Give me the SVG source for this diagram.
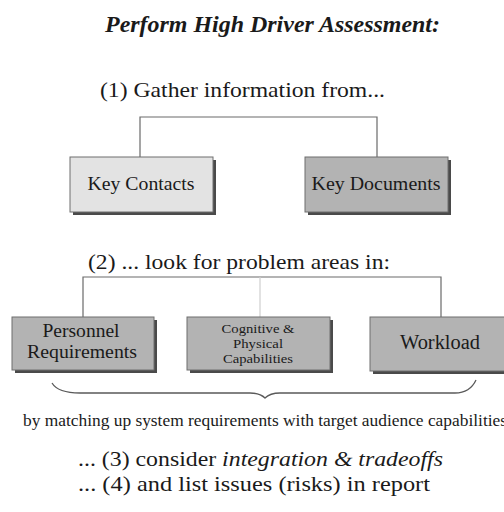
<svg xmlns="http://www.w3.org/2000/svg" width="504" height="512" viewBox="0 0 504 512">
  <style>
    .box { stroke: #6e6e6e; stroke-width: 1; }
    .shadow { fill: #4a4a4a; }
    .light { fill: #e3e3e3; }
    .dark { fill: #b3b3b3; }
    .wire { stroke: #6a6a6a; stroke-width: 1.2; fill: none; }
    .wire-faint { stroke: #cfcfcf; stroke-width: 1.2; fill: none; }
    .brace { stroke: #5a5a5a; stroke-width: 1.3; fill: none; }
  </style>

  <rect width="504" height="512" fill="#ffffff"/>

  <text x="105" y="32" font-family="'Liberation Serif', serif" font-size="23" font-weight="bold" font-style="italic" fill="#1a1a1a" textLength="335" lengthAdjust="spacingAndGlyphs">Perform High Driver Assessment:</text>
  <text x="100" y="97" font-family="'Liberation Serif', serif" font-size="22" fill="#1a1a1a" textLength="285" lengthAdjust="spacingAndGlyphs">(1) Gather information from...</text>
  <text x="88" y="269" font-family="'Liberation Serif', serif" font-size="22" fill="#1a1a1a" textLength="302" lengthAdjust="spacingAndGlyphs">(2) ... look for problem areas in:</text>

  <!-- connectors -->
  <g id="connectors">
    <path class="wire" d="M140,157 V117 H377 V157"/>
    <path class="wire" d="M83,317 V277 H441 V317"/>
    <path class="wire-faint" d="M260,277 V317"/>
  </g>

  <!-- source nodes -->
  <g id="key-contacts">
    <rect class="shadow" x="73" y="160" width="143" height="55"/>
    <rect class="box light" x="70" y="157" width="143" height="55"/>
    <text x="141" y="190" font-family="'Liberation Serif', serif" font-size="19" text-anchor="middle" fill="#1a1a1a" textLength="107" lengthAdjust="spacingAndGlyphs">Key Contacts</text>
  </g>
  <g id="key-documents">
    <rect class="shadow" x="308" y="160" width="143" height="55"/>
    <rect class="box dark" x="305" y="157" width="143" height="55"/>
    <text x="376" y="190" font-family="'Liberation Serif', serif" font-size="19" text-anchor="middle" fill="#1a1a1a" textLength="129" lengthAdjust="spacingAndGlyphs">Key Documents</text>
  </g>

  <!-- problem areas -->
  <g id="personnel-requirements">
    <rect class="shadow" x="15" y="320" width="142" height="53"/>
    <rect class="box dark" x="12" y="317" width="142" height="53"/>
    <text x="81" y="337" font-family="'Liberation Serif', serif" font-size="18" text-anchor="middle" fill="#1a1a1a" textLength="77" lengthAdjust="spacingAndGlyphs">Personnel</text>
    <text x="82" y="358" font-family="'Liberation Serif', serif" font-size="18" text-anchor="middle" fill="#1a1a1a" textLength="110" lengthAdjust="spacingAndGlyphs">Requirements</text>
  </g>
  <g id="cognitive-physical">
    <rect class="shadow" x="190" y="320" width="143" height="53"/>
    <rect class="box dark" x="187" y="317" width="143" height="53"/>
    <text x="258" y="333" font-family="'Liberation Serif', serif" font-size="13" text-anchor="middle" fill="#1a1a1a" textLength="73" lengthAdjust="spacingAndGlyphs">Cognitive &amp;</text>
    <text x="258" y="348" font-family="'Liberation Serif', serif" font-size="13" text-anchor="middle" fill="#1a1a1a" textLength="50" lengthAdjust="spacingAndGlyphs">Physical</text>
    <text x="258" y="363" font-family="'Liberation Serif', serif" font-size="13" text-anchor="middle" fill="#1a1a1a" textLength="70" lengthAdjust="spacingAndGlyphs">Capabilities</text>
  </g>
  <g id="workload">
    <rect class="shadow" x="373" y="320" width="140" height="54"/>
    <rect class="box dark" x="370" y="317" width="140" height="54"/>
    <text x="440" y="349" font-family="'Liberation Serif', serif" font-size="20" text-anchor="middle" fill="#1a1a1a" textLength="80" lengthAdjust="spacingAndGlyphs">Workload</text>
  </g>

  <!-- brace grouping the problem areas -->
  <path class="brace" d="M52,383 Q58,393 80,393 H250 Q260,393 265,398 Q270,393 280,393 H455 Q470,393 476,380"/>

  <text x="23" y="426" font-family="'Liberation Serif', serif" font-size="16" fill="#1a1a1a" textLength="484" lengthAdjust="spacingAndGlyphs">by matching up system requirements with target audience capabilities</text>
  <text x="78" y="466" font-family="'Liberation Serif', serif" font-size="21" fill="#1a1a1a" textLength="365" lengthAdjust="spacingAndGlyphs">... (3) consider <tspan font-style="italic">integration &amp; tradeoffs</tspan></text>
  <text x="78" y="491" font-family="'Liberation Serif', serif" font-size="21" fill="#1a1a1a" textLength="352" lengthAdjust="spacingAndGlyphs">... (4) and list issues (risks) in report</text>
</svg>
